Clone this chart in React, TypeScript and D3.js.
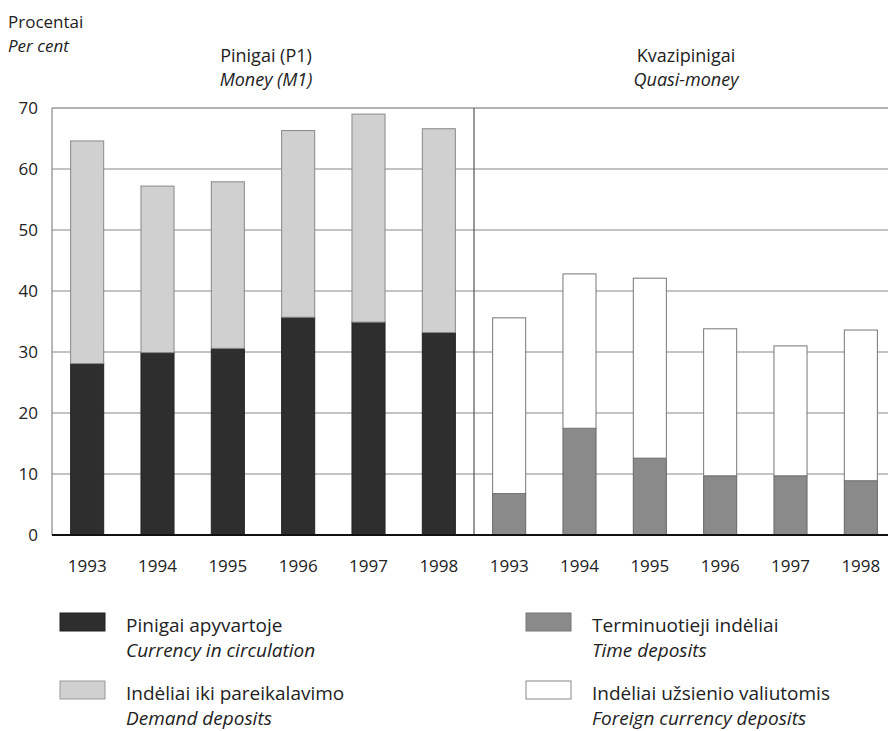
import React from "react";
import * as d3 from "d3";

const years = ["1993", "1994", "1995", "1996", "1997", "1998"];
const currency = [28.1, 29.9, 30.6, 35.7, 34.9, 33.2];
const demand = [36.5, 27.3, 27.3, 30.6, 34.1, 33.4];
const timeDep = [6.8, 17.5, 12.6, 9.7, 9.7, 8.9];
const foreign = [28.8, 25.3, 29.5, 24.1, 21.3, 24.7];
const yTicks = [0, 10, 20, 30, 40, 50, 60, 70];

const W = 888, H = 731;
const FONT = "'Open Sans', 'Lato', sans-serif";

export default function App() {
  const keys = [...years.map((y) => "M-" + y), ...years.map((y) => "Q-" + y)];
  const x = d3.scaleBand().domain(keys).range([52, 896]).paddingInner(0.53).paddingOuter(0.265);
  const y = d3.scaleLinear().domain([0, 70]).range([535, 108]);
  const bw = x.bandwidth();

  const moneyStacks = years.map((yr, i) => ({ key: "M-" + yr, segs: [
    { y0: 0, y1: currency[i], fill: "#2e2e2e", stroke: "#222" },
    { y0: currency[i], y1: currency[i] + demand[i], fill: "#d0d0d0", stroke: "#888" },
  ] }));
  const quasiStacks = years.map((yr, i) => ({ key: "Q-" + yr, segs: [
    { y0: 0, y1: timeDep[i], fill: "#8a8a8a", stroke: "#666" },
    { y0: timeDep[i], y1: timeDep[i] + foreign[i], fill: "#ffffff", stroke: "#777" },
  ] }));
  const stacks = [...moneyStacks, ...quasiStacks];
  const divX = x("Q-1993")! - (x.step() - bw) / 2;

  const legend = [
    { x: 60, y: 613, fill: "#2e2e2e", stroke: "#222", t1: "Pinigai apyvartoje", t2: "Currency in circulation" },
    { x: 60, y: 681, fill: "#d0d0d0", stroke: "#999", t1: "Indėliai iki pareikalavimo", t2: "Demand deposits" },
    { x: 526, y: 613, fill: "#8a8a8a", stroke: "#777", t1: "Terminuotieji indėliai", t2: "Time deposits" },
    { x: 526, y: 681, fill: "#ffffff", stroke: "#888", t1: "Indėliai užsienio valiutomis", t2: "Foreign currency deposits" },
  ];

  return (
    <svg width={W} height={H} style={{ position: "absolute", left: 0, top: 0, background: "#fff" }} fontFamily={FONT}>
      <text x={8} y={28} fontSize={17} fill="#222">Procentai</text>
      <text x={8} y={52} fontSize={17} fill="#222" fontStyle="italic">Per cent</text>
      <text x={(52 + divX) / 2 + 3} y={62} fontSize={18} fill="#222" textAnchor="middle">Pinigai (P1)</text>
      <text x={(52 + divX) / 2 + 3} y={86} fontSize={18} fill="#222" textAnchor="middle" fontStyle="italic">Money (M1)</text>
      <text x={(divX + 888) / 2 + 5} y={62} fontSize={18} fill="#222" textAnchor="middle">Kvazipinigai</text>
      <text x={(divX + 888) / 2 + 5} y={86} fontSize={18} fill="#222" textAnchor="middle" fontStyle="italic">Quasi-money</text>

      {yTicks.filter((t) => t > 0).map((t) => (
        <line key={t} x1={52} x2={888} y1={y(t)} y2={y(t)} stroke={t === 70 ? "#666" : "#888"} strokeWidth={1.2} />
      ))}
      <line x1={52} x2={52} y1={y(70)} y2={y(0)} stroke="#888" strokeWidth={1.2} />
      <line x1={divX} x2={divX} y1={y(70)} y2={y(0)} stroke="#555" strokeWidth={1.2} />

      {yTicks.map((t) => (
        <text key={t} x={38} y={y(t)} dy="0.35em" fontSize={17} fill="#222" textAnchor="end">{t}</text>
      ))}

      {stacks.map((s) => (
        <g key={s.key}>
          {s.segs.map((g, j) => (
            <rect key={j} x={x(s.key)} y={y(g.y1)} width={bw} height={y(g.y0) - y(g.y1)} fill={g.fill} stroke={g.stroke} strokeWidth={1} />
          ))}
        </g>
      ))}

      <line x1={52} x2={888} y1={y(0)} y2={y(0)} stroke="#111" strokeWidth={2.2} />

      {keys.map((k) => (
        <text key={k} x={x(k)! + bw / 2} y={572} fontSize={17} fill="#222" textAnchor="middle">{k.slice(2)}</text>
      ))}

      {legend.map((l) => (
        <g key={l.t1}>
          <rect x={l.x} y={l.y} width={45} height={18} fill={l.fill} stroke={l.stroke} strokeWidth={1} />
          <text x={l.x + 66} y={l.y + 19} fontSize={19} fill="#222">{l.t1}</text>
          <text x={l.x + 66} y={l.y + 44} fontSize={19} fill="#222" fontStyle="italic">{l.t2}</text>
        </g>
      ))}
    </svg>
  );
}
